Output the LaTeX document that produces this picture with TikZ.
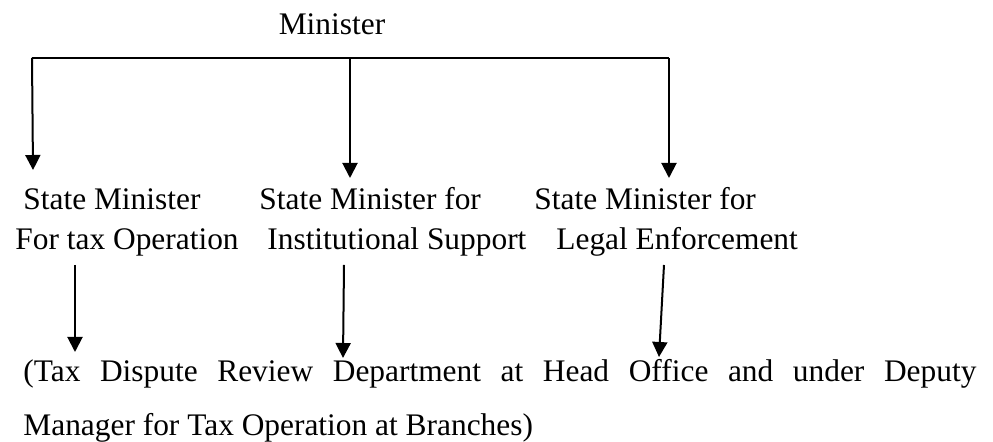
\documentclass[tikz,border=0pt]{standalone}
\usepackage{fontspec}
\setmainfont{Liberation Serif}
\usepackage{tikz}
\usetikzlibrary{arrows.meta}
\begin{document}
\begin{tikzpicture}[x=0.5pt,y=-0.5pt]
      \tikzstyle{edge}  = [line width=0.8pt,draw=black]
      \tikzstyle{dedge} = [line width=1pt,->,>={Triangle[length=7.5pt,width=7.5pt]},draw=black]
      \tikzstyle{lbl}=[
        anchor=base west,
        inner sep=0pt,
        font=\fontsize{15.7}{20}\selectfont,
      ]
      \useasboundingbox (0,0) rectangle (993,442);

      \node[lbl,anchor=base] (min) at (332,35) {Minister};

      \node[lbl] (sm1a) at (23,210) {State Minister};
      \node[lbl] (sm1b) at (15,250) {For tax Operation};
      \node[lbl] (sm2a) at (259,210) {State Minister for};
      \node[lbl] (sm2b) at (267,250) {Institutional Support};
      \node[lbl] (sm3a) at (534,210) {State Minister for};
      \node[lbl] (sm3b) at (556,250) {Legal Enforcement};

      \node[lbl] (trd1) at (23,382) {\makebox[476.5pt][s]{(Tax Dispute Review Department at Head Office and under Deputy}};
      \node[lbl] (trd2) at (23,436) {Manager for Tax Operation at Branches)};

      \coordinate (j1) at (32,58);
      \coordinate (j2) at (350,58);
      \coordinate (j3) at (669,58);
      \coordinate (t1) at (33,170);
      \coordinate (t2) at (350,178);
      \coordinate (t3) at (669,178);
      \coordinate (u1) at (75,265);
      \coordinate (u2) at (344,265);
      \coordinate (u3) at (664,265);
      \coordinate (v1) at (75,352);
      \coordinate (v2) at (343,358);
      \coordinate (v3) at (659,357);

      \draw[edge] (j1)--(j3);
      \draw[dedge] (j1)--(t1);
      \draw[dedge] (j2)--(t2);
      \draw[dedge] (j3)--(t3);
      \draw[dedge] (u1)--(v1);
      \draw[dedge] (u2)--(v2);
      \draw[dedge] (u3)--(v3);
    \end{tikzpicture}
\end{document}
